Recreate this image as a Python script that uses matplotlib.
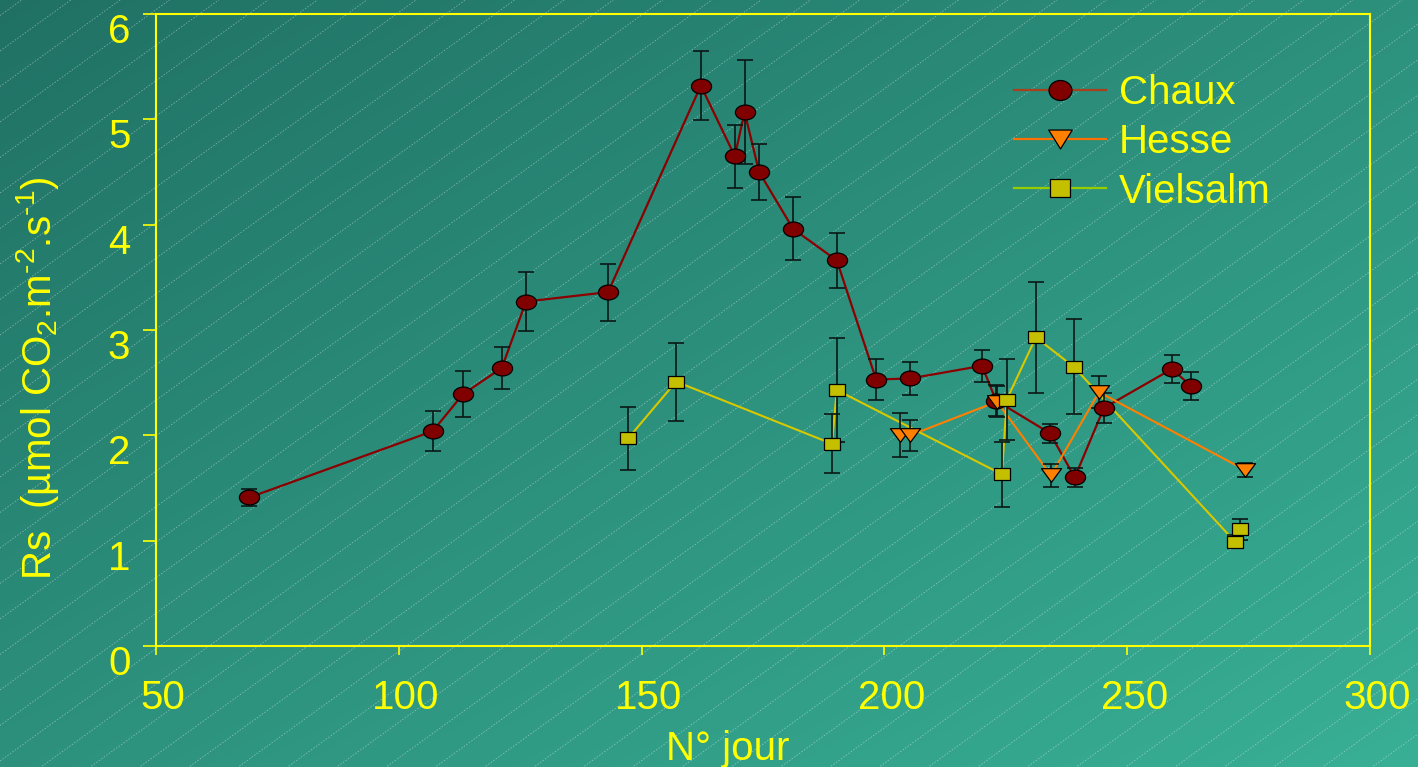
import matplotlib
matplotlib.use('Agg')
import matplotlib.pyplot as plt
import numpy as np
from matplotlib.path import Path
from matplotlib.lines import Line2D
import matplotlib.transforms as mtransforms

plt.rcParams['font.family'] = ['Liberation Sans', 'DejaVu Sans']
plt.rcParams['mathtext.fontset'] = 'custom'
plt.rcParams['mathtext.rm'] = 'Liberation Sans'
plt.rcParams['mathtext.default'] = 'regular'

# ---------------- data ----------------
chaux_day = [69.2, 107.0, 113.2, 121.2, 126.2, 143.1, 162.2, 169.2, 171.2, 174.2, 181.2,
             190.2, 198.3, 205.3, 220.1, 223.0, 234.1, 239.2, 245.2, 259.2, 263.1]
chaux_rs = [1.41, 2.04, 2.39, 2.64, 3.27, 3.36, 5.32, 4.65, 5.07, 4.50, 3.96,
            3.66, 2.53, 2.54, 2.66, 2.33, 2.02, 1.60, 2.26, 2.63, 2.47]
chaux_err = [0.08, 0.19, 0.22, 0.20, 0.28, 0.27, 0.33, 0.30, 0.49, 0.27, 0.30,
             0.26, 0.19, 0.16, 0.15, 0.15, 0.09, 0.09, 0.14, 0.13, 0.13]

hesse_day = [203.2, 205.3, 223.2, 234.3, 244.2, 274.3]
hesse_rs = [2.00, 2.00, 2.32, 1.62, 2.41, 1.67]
hesse_err = [0.21, 0.15, 0.15, 0.11, 0.15, 0.07]

vielsalm_day = [147.2, 157.1, 189.2, 190.2, 224.2, 225.2, 231.2, 239.0, 272.2, 273.2]
vielsalm_rs = [1.97, 2.51, 1.92, 2.43, 1.63, 2.34, 2.93, 2.65, 0.99, 1.11]
vielsalm_err = [0.30, 0.37, 0.28, 0.49, 0.31, 0.38, 0.53, 0.45, 0.06, 0.10]

series_names = ['Chaux', 'Hesse', 'Vielsalm']
x_ticks = [50, 100, 150, 200, 250, 300]
y_ticks = [0, 1, 2, 3, 4, 5, 6]

YEL = '#ffff00'

# ---------------- marker shapes ----------------
def ellipse(ratio):
    c = Path.unit_circle()
    return Path(c.vertices * np.array([1.0, ratio]), c.codes)

def tri_down(ratio):
    return Path([(-1, ratio), (1, ratio), (0, -ratio), (-1, ratio)],
                [Path.MOVETO, Path.LINETO, Path.LINETO, Path.CLOSEPOLY])

def rect(ratio):
    return Path([(-1, -ratio), (1, -ratio), (1, ratio), (-1, ratio), (-1, -ratio)],
                [Path.MOVETO, Path.LINETO, Path.LINETO, Path.LINETO, Path.CLOSEPOLY])

# ---------------- figure & background ----------------
W, H = 1418, 767
fig = plt.figure(figsize=(W / 100, H / 100), dpi=100)
bg = fig.add_axes([0, 0, 1, 1], zorder=-10)
bg.set_axis_off()
yy, xx = np.mgrid[0:H, 0:W]
t = (xx / W + yy / H) / 2.0
c0 = np.array([32, 113, 100]) / 255.0
c1 = np.array([57, 176, 150]) / 255.0
img = c0 + t[..., None] * (c1 - c0)
bg.imshow(img, extent=(0, W, H, 0), aspect='auto', interpolation='bilinear')
slope, spacing = 0.72, 35.5
for c in np.arange(-20, H + slope * W + 40, spacing):
    bg.plot([0, W], [c, c - slope * W], color='white', lw=0.55, alpha=0.42,
            ls=(0, (2, 2)))
bg.set_xlim(0, W)
bg.set_ylim(H, 0)

# ---------------- main axes ----------------
ax = fig.add_axes([156 / W, (H - 646) / H, (1370 - 156) / W, (646 - 14) / H])
ax.set_facecolor('none')
ax.set_xlim(50, 300)
ax.set_ylim(0, 6)
ax.set_xticks(x_ticks)
ax.set_yticks(y_ticks)

err_kw = dict(fmt='none', ecolor='#0a1816', elinewidth=1.2, capsize=6, capthick=1.2)

# lines
ax.plot(chaux_day, chaux_rs, color='#8b0000', lw=1.6, zorder=2)
ax.plot(hesse_day, hesse_rs, color='#ff7f00', lw=1.5, zorder=2)
ax.plot(vielsalm_day, vielsalm_rs, color='#d8c800', lw=1.5, zorder=2)
# error bars
ax.errorbar(chaux_day, chaux_rs, yerr=chaux_err, zorder=3, **err_kw)
ax.errorbar(hesse_day, hesse_rs, yerr=hesse_err, zorder=3, **err_kw)
ax.errorbar(vielsalm_day, vielsalm_rs, yerr=vielsalm_err, zorder=3, **err_kw)
# markers
ax.plot(chaux_day, chaux_rs, ls='none', marker=ellipse(0.74), ms=14.5,
        mfc='#800000', mec='black', mew=0.9, zorder=4)
ax.plot(hesse_day, hesse_rs, ls='none', marker=tri_down(0.68), ms=14.5,
        mfc='#ff8000', mec='black', mew=0.9, zorder=5)
ax.plot(vielsalm_day, vielsalm_rs, ls='none', marker=rect(0.76), ms=12,
        mfc='#c4c000', mec='black', mew=0.9, zorder=6)

# spines & ticks
for s in ax.spines.values():
    s.set_color(YEL)
    s.set_linewidth(1.5)
ax.tick_params(axis='both', colors=YEL, direction='out', width=1.2, labelsize=29)
ax.tick_params(axis='x', length=6.5, pad=17)
ax.tick_params(axis='y', length=9.4, pad=9)
for lab in ax.get_xticklabels():
    lab.set_transform(lab.get_transform() +
                      mtransforms.ScaledTranslation(0.07, 0, fig.dpi_scale_trans))
for lab in ax.get_yticklabels():
    lab.set_transform(lab.get_transform() +
                      mtransforms.ScaledTranslation(0, -0.14, fig.dpi_scale_trans))

ax.set_ylabel(r'Rs  (µmol CO$_2$.m$^{\text{-}2}$.s$^{\text{-}1}$)', color=YEL,
              fontsize=29, va='center')
ax.yaxis.set_label_coords((38 - 156) / 1214, (646 - 378) / 632)
ax.set_xlabel('N° jour', color=YEL, fontsize=29, va='baseline')
ax.xaxis.set_label_coords((728 - 156) / 1214, (646 - 760) / 632)

# legend
handles = [
    Line2D([], [], color='#a8401e', lw=1.6, marker=ellipse(0.87), ms=16.5,
           mfc='#800000', mec='black', mew=0.9),
    Line2D([], [], color='#ff7000', lw=1.6, marker=tri_down(0.8), ms=17,
           mfc='#ff8000', mec='black', mew=0.9),
    Line2D([], [], color='#99cc00', lw=1.6, marker=rect(0.86), ms=15,
           mfc='#c4c000', mec='black', mew=0.9),
]
leg = ax.legend(handles, series_names, loc='upper left',
                bbox_to_anchor=(1014 / W, (H - 74) / H), bbox_transform=fig.transFigure,
                frameon=False, fontsize=29, handlelength=2.28, handletextpad=0.32,
                labelspacing=0.28, borderpad=0, borderaxespad=0)
for txt in leg.get_texts():
    txt.set_color(YEL)

fig.savefig('out.png', dpi=100)
